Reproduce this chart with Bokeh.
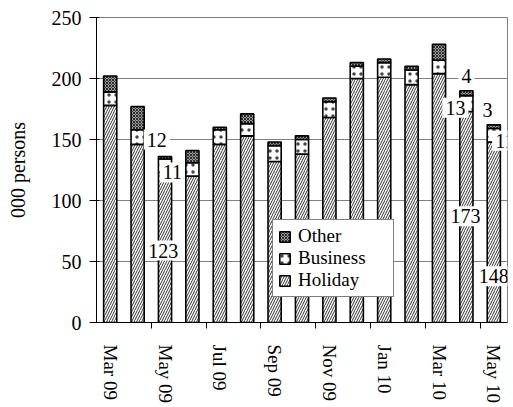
from bokeh.plotting import figure
from bokeh.models import (ColumnDataSource, FixedTicker, LinearAxis, Range1d,
                          Legend, LegendItem, Label)
from bokeh.embed import file_html
from bokeh.resources import INLINE

months = ["Mar 09", "Apr 09", "May 09", "Jun 09", "Jul 09", "Aug 09", "Sep 09",
          "Oct 09", "Nov 09", "Dec 09", "Jan 10", "Feb 10", "Mar 10", "Apr 10", "May 10"]
holiday = [178, 146, 123, 120, 146, 153, 132, 138, 168, 200, 201, 195, 204, 173, 148]
business = [11, 12, 11, 11, 12, 10, 13, 12, 13, 10, 12, 12, 11, 13, 11]
other = [13, 19, 2, 10, 2, 8, 3, 3, 3, 3, 3, 3, 13, 4, 3]
y_ticks = [0, 50, 100, 150, 200, 250]
label_months = ["May 09", "May 09", "May 09", "Apr 10", "Apr 10", "Apr 10",
                "May 10", "May 10", "May 10"]
label_texts = ["123", "11", "12", "173", "13", "4", "148", "11", "3"]

FONT = "Liberation Serif"

n = len(months)
xs = list(range(n))
src = ColumnDataSource(dict(x=xs, months=months, holiday=holiday,
                            business=business, other=other))

p = figure(width=513, height=407, output_backend="svg", toolbar_location=None,
           x_range=Range1d(-0.5, n - 0.5), y_range=Range1d(0, 250),
           min_border_left=96, min_border_right=6, min_border_top=17,
           min_border_bottom=85, x_axis_type=None)
p.background_fill_color = "white"
p.border_fill_color = "white"
p.outline_line_color = "#808080"
p.outline_line_width = 1

# y axis
p.yaxis.ticker = FixedTicker(ticks=y_ticks)
p.yaxis.minor_tick_line_color = None
p.yaxis.major_tick_out = 7
p.yaxis.major_tick_in = 3
p.yaxis.axis_line_color = "black"
p.yaxis.major_tick_line_color = "black"
p.yaxis.major_label_text_font = FONT
p.yaxis.major_label_text_font_size = "20px"
p.yaxis.major_label_text_color = "black"
p.yaxis.major_label_standoff = 8
p.yaxis.axis_label = "000 persons"
p.yaxis.axis_label_text_font = FONT
p.yaxis.axis_label_text_font_size = "20px"
p.yaxis.axis_label_text_font_style = "normal"
p.yaxis.axis_label_text_color = "black"
p.yaxis.axis_label_standoff = 20
p.ygrid.ticker = FixedTicker(ticks=y_ticks)
p.ygrid.grid_line_color = "#808080"
p.ygrid.grid_line_width = 1

# x axis: labels on every other month, tick marks between category pairs
ax = LinearAxis(ticker=FixedTicker(ticks=xs[::2],
                                   minor_ticks=[i + 1.5 for i in range(0, n - 2, 2)]),
                major_label_overrides={i: months[i] for i in xs[::2]},
                major_tick_line_color=None, major_tick_out=0, major_tick_in=0,
                minor_tick_line_color="black", minor_tick_out=6, minor_tick_in=0,
                axis_line_color="black",
                major_label_orientation="vertical",
                major_label_text_font=FONT,
                major_label_text_font_size="19px",
                major_label_text_color="black",
                major_label_standoff=16)
p.add_layout(ax, "below")

renderers = p.vbar_stack(["holiday", "business", "other"], x="x", width=0.48,
                         source=src,
                         fill_color=["white", "white", "#9a9a9a"],
                         line_color="black", line_width=1.6,
                         hatch_pattern=["right_diagonal_line", "dot", "x"],
                         hatch_color=["#333333", "#444444", "black"],
                         hatch_scale=[5, 7, 3],
                         hatch_weight=[1, 1, 0.7])
r_hol, r_bus, r_oth = renderers

legend = Legend(items=[LegendItem(label="Other", renderers=[r_oth]),
                       LegendItem(label="Business", renderers=[r_bus]),
                       LegendItem(label="Holiday", renderers=[r_hol])],
                location=(176, 25), margin=0, padding=5, spacing=0,
                glyph_width=13, glyph_height=13, label_height=19,
                label_standoff=7, label_width=90,
                label_text_font=FONT, label_text_font_size="19px",
                label_text_color="black",
                border_line_color="black", border_line_width=1,
                background_fill_color="white", background_fill_alpha=1)
p.add_layout(legend)

# data labels (positions: layout offsets around each bar)
offsets = [(-0.06, 59), (0.27, 123), (-0.30, 150),
           (-0.03, 87), (-0.40, 176), (0.0, 202),
           (0.0, 38), (0.40, 149), (-0.23, 174)]
for m, t, (dx, yv) in zip(label_months, label_texts, offsets):
    p.add_layout(Label(x=months.index(m) + dx, y=yv, text=t,
                       text_align="center", text_baseline="middle",
                       text_font=FONT, text_font_size="20px", text_color="black",
                       background_fill_color="white", background_fill_alpha=1,
                       padding=3))

open("out.html", "w").write(file_html(p, INLINE))
